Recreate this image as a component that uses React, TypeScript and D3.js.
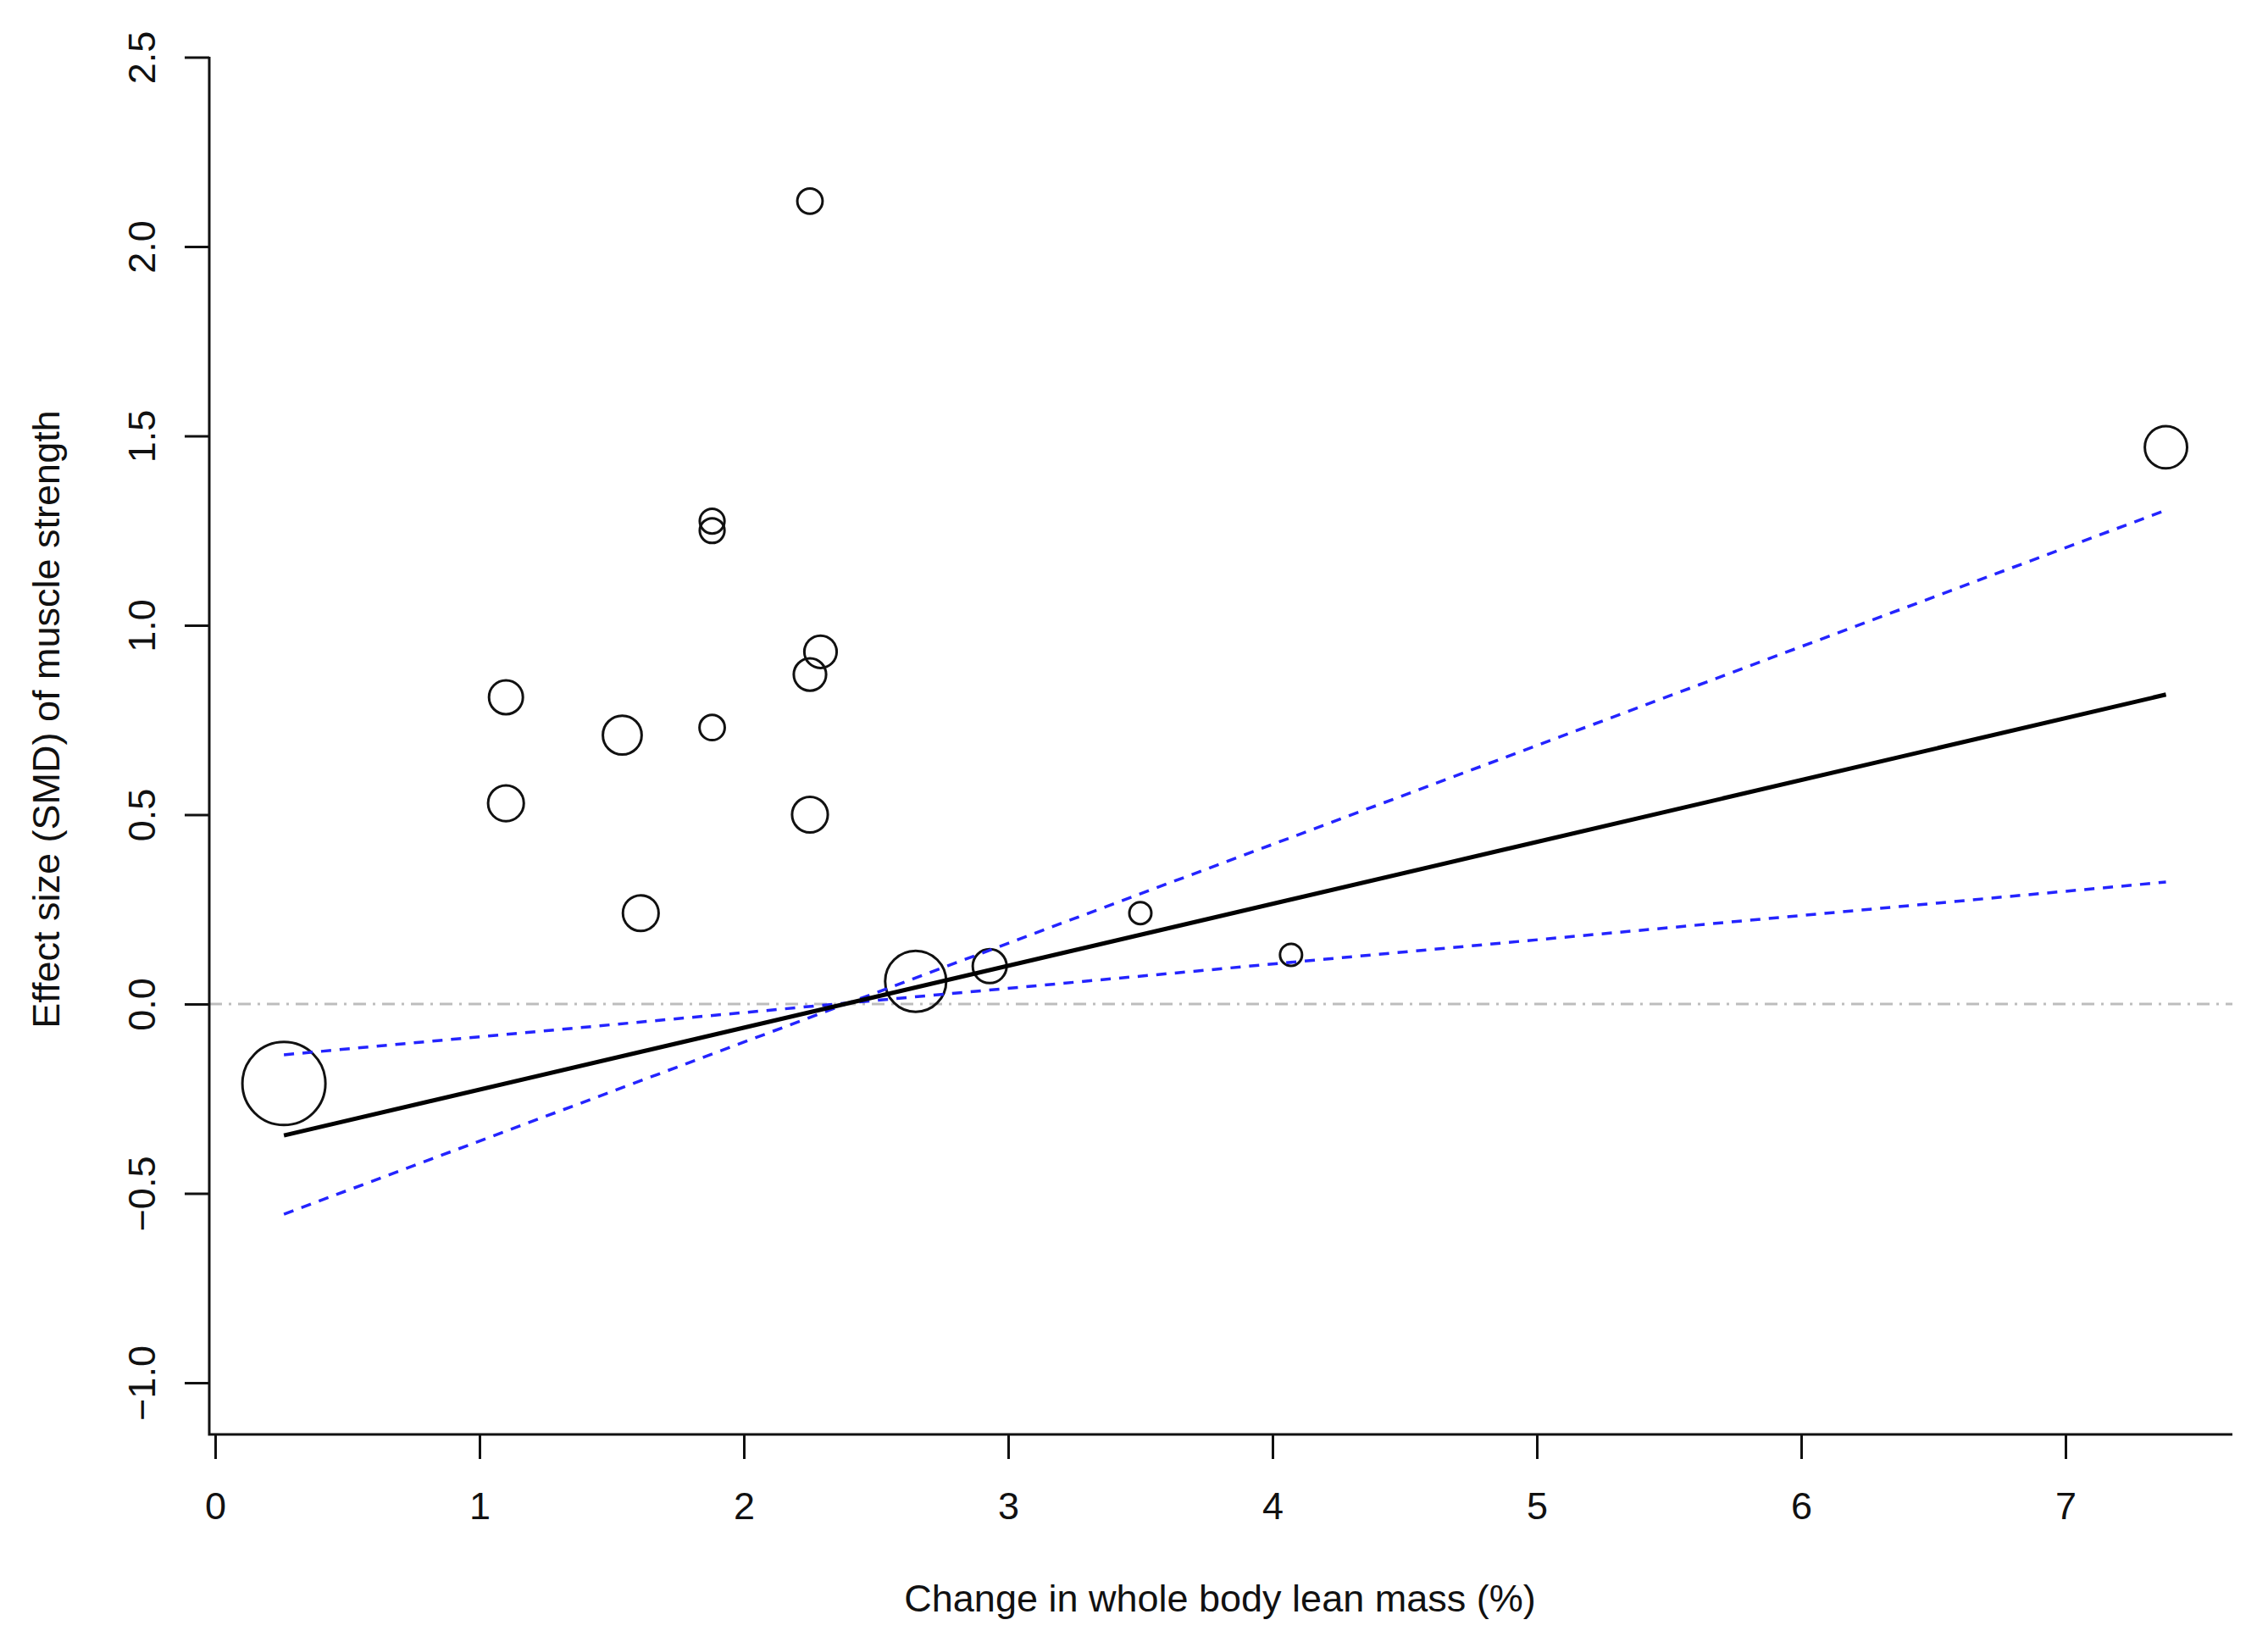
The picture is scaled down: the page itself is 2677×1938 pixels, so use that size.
import { useEffect, useRef } from "react";
import { axisBottom, axisLeft, format, line, scaleLinear, scaleSqrt, select } from "d3";

// studies: % change in lean mass, SMD of strength, relative weight (%)
const leanMassChange = [0.26, 1.1, 1.1, 1.54, 1.61, 1.88, 1.88, 1.88, 2.25, 2.25, 2.29, 2.25, 2.65, 2.93, 3.5, 4.07, 7.38];
const effectSize = [-0.21, 0.81, 0.53, 0.71, 0.24, 1.275, 1.25, 0.73, 2.12, 0.87, 0.93, 0.5, 0.06, 0.1, 0.24, 0.13, 1.47];
const studyWeight = [27.0, 4.5, 5.0, 5.9, 5.0, 2.4, 2.4, 2.5, 2.5, 4.1, 4.1, 5.0, 14.6, 4.5, 1.9, 1.9, 7.0];

// fitted meta-regression line and its bounds (at the x range ends)
const fitX = [0.26, 7.38];
const fitPred = [-0.347, 0.817];
const boundA = [-0.134, 0.322];
const boundB = [-0.555, 1.304];

const xTicks = [0, 1, 2, 3, 4, 5, 6, 7];
const yTicks = [-1, -0.5, 0, 0.5, 1, 1.5, 2, 2.5];

const xTitle = "Change in whole body lean mass (%)";
const yTitle = "Effect size (SMD) of muscle strength";

const W = 2677;
const H = 1938;
const plot = { left: 247, right: 2635, top: 67, bottom: 1693 };
const FONT = "'Liberation Sans', Arial, sans-serif";

const x = scaleLinear().domain([0, 7]).range([254, 2438]);
const y = scaleLinear().domain([0, 2.5]).range([1185, 67.5]);
const r = scaleSqrt().domain([0, 27]).range([0, 49]);

function XAxis() {
  const ref = useRef<SVGGElement>(null);
  useEffect(() => {
    if (!ref.current) return;
    const g = select(ref.current);
    g.call(axisBottom(x).tickValues(xTicks).tickFormat(format("d")).tickSize(29).tickSizeOuter(0));
    g.select(".domain").remove();
    g.selectAll(".tick line").attr("stroke", "#111").attr("stroke-width", 3);
    g.selectAll(".tick text")
      .attr("dy", null)
      .attr("y", 100)
      .attr("fill", "#111")
      .style("font-size", "45px")
      .style("font-family", FONT);
  }, []);
  return <g ref={ref} transform={`translate(0, ${plot.bottom})`} />;
}

function YAxis() {
  const ref = useRef<SVGGElement>(null);
  useEffect(() => {
    if (!ref.current) return;
    const g = select(ref.current);
    g.call(axisLeft(y).tickValues(yTicks).tickFormat(format(".1f")).tickSize(29).tickSizeOuter(0));
    g.select(".domain").remove();
    g.selectAll(".tick line").attr("stroke", "#111").attr("stroke-width", 3);
    g.selectAll(".tick text")
      .attr("x", 0)
      .attr("y", 0)
      .attr("dy", null)
      .attr("text-anchor", "middle")
      .attr("transform", "translate(-64, 0) rotate(-90)")
      .attr("fill", "#111")
      .style("font-size", "45px")
      .style("font-family", FONT);
  }, []);
  return <g ref={ref} transform={`translate(${plot.left}, 0)`} />;
}

export default function App() {
  const seg = line<number>()
    .x((_, i) => x(fitX[i]))
    .y((d) => y(d));

  return (
    <svg
      width={W}
      height={H}
      style={{ position: "absolute", left: 0, top: 0, background: "#fff" }}
    >
      {/* zero reference */}
      <line
        x1={plot.left}
        x2={plot.right}
        y1={y(0)}
        y2={y(0)}
        stroke="#bdbdbd"
        strokeWidth={3}
        strokeDasharray="15 8 3 8"
      />

      {leanMassChange.map((v, i) => (
        <circle
          key={i}
          cx={x(v)}
          cy={y(effectSize[i])}
          r={r(studyWeight[i])}
          fill="none"
          stroke="#111"
          strokeWidth={3}
        />
      ))}

      <path d={seg(boundA) ?? ""} fill="none" stroke="#2424ff" strokeWidth={3.5} strokeDasharray="12 10" />
      <path d={seg(boundB) ?? ""} fill="none" stroke="#2424ff" strokeWidth={3.5} strokeDasharray="12 10" />
      <path d={seg(fitPred) ?? ""} fill="none" stroke="#000" strokeWidth={5} />

      {/* L-shaped frame */}
      <path
        d={`M${plot.left},${plot.top}V${plot.bottom}H${plot.right}`}
        fill="none"
        stroke="#111"
        strokeWidth={3}
      />
      <XAxis />
      <YAxis />

      <text
        x={1440}
        y={1902}
        textAnchor="middle"
        fontSize={45}
        fontFamily={FONT}
        fill="#111"
      >
        {xTitle}
      </text>
      <text
        transform="translate(70, 849) rotate(-90)"
        textAnchor="middle"
        fontSize={45}
        fontFamily={FONT}
        fill="#111"
      >
        {yTitle}
      </text>
    </svg>
  );
}
